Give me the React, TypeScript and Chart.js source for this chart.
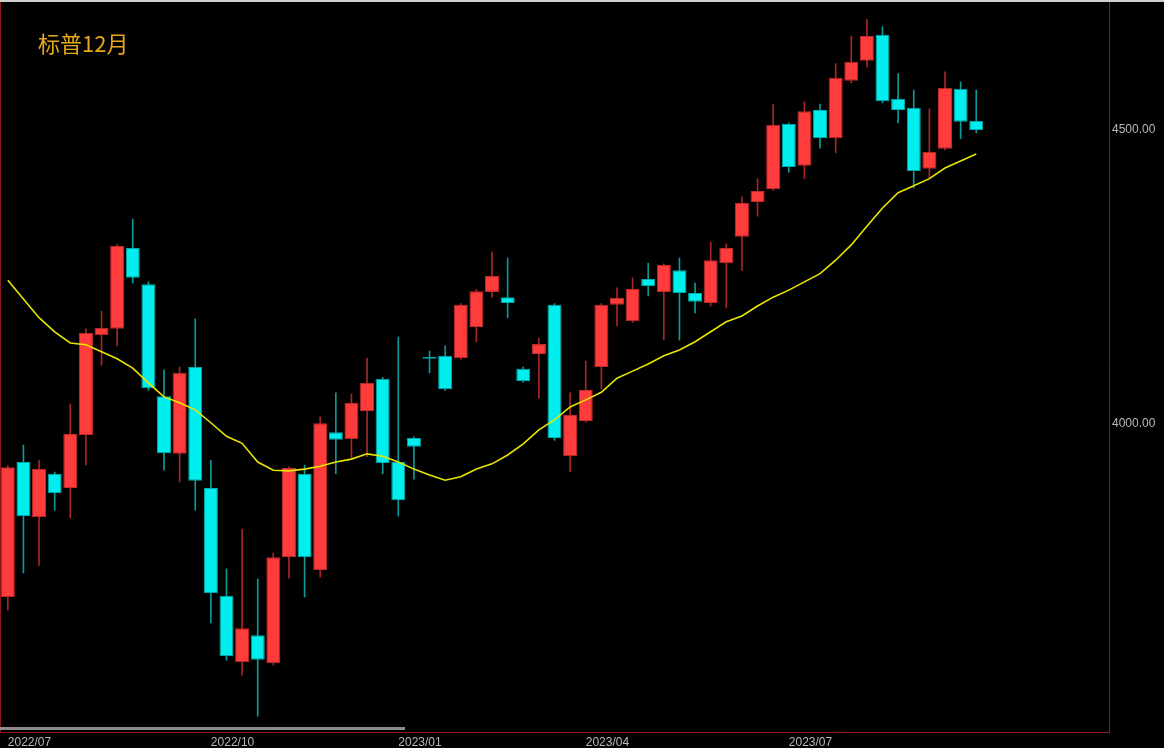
import React, { useEffect, useRef } from 'react';
import { Chart, registerables } from 'chart.js';

Chart.register(...registerables);

const chartTitle = '标普12月';
const monthTickLabels = ['2022/07', '2022/10', '2023/01', '2023/04', '2023/07'];
const monthTickIndex = [0, 13, 25, 37, 50];
const slotCount = 71;
const priceTicks = [4000, 4500];
const yMin = 3474;
const yMax = 4718;

const openPrices = [
  3704, 3934, 3840, 3914, 3890, 3980, 4150, 4161, 4299, 4237,
  4046, 3948, 4096, 3890, 3706, 3593, 3639, 3591, 3772, 3914,
  3750, 3985, 3973, 4021, 4076, 3934, 3975, 4113, 4115, 4111,
  4164, 4224, 4215, 4093, 4118, 4202, 3944, 4004, 4096, 4202,
  4174, 4246, 4224, 4261, 4222, 4205, 4273, 4318, 4377, 4399,
  4510, 4439, 4534, 4486, 4584, 4618, 4662, 4553, 4538, 4434,
  4468, 4570, 4515,
];
const highPrices = [
  3928, 3963, 3937, 3917, 4033, 4161, 4191, 4305, 4348, 4241,
  4091, 4096, 4178, 3937, 3752, 3820, 3735, 3779, 3926, 3929,
  4011, 4052, 4050, 4111, 4078, 4147, 3977, 4123, 4132, 4204,
  4228, 4292, 4282, 4096, 4145, 4204, 4052, 4106, 4204, 4231,
  4248, 4273, 4272, 4282, 4239, 4309, 4306, 4386, 4417, 4543,
  4512, 4548, 4544, 4613, 4660, 4688, 4676, 4596, 4568, 4536,
  4599, 4582, 4568,
];
const lowPrices = [
  3682, 3745, 3758, 3852, 3839, 3929, 4099, 4132, 4239, 4056,
  3920, 3900, 3852, 3660, 3596, 3571, 3501, 3588, 3736, 3704,
  3738, 3914, 3941, 3943, 3914, 3842, 3905, 4086, 4056, 4109,
  4139, 4215, 4180, 4070, 4043, 3971, 3917, 4002, 4058, 4166,
  4172, 4217, 4142, 4142, 4188, 4200, 4197, 4260, 4353, 4397,
  4428, 4417, 4469, 4461, 4580, 4607, 4546, 4512, 4401, 4418,
  4466, 4485, 4495,
];
const closePrices = [
  3925, 3842, 3922, 3881, 3982, 4154, 4163, 4302, 4248, 4060,
  3949, 4086, 3902, 3711, 3603, 3651, 3597, 3772, 3924, 3772,
  4000, 3972, 4035, 4069, 3932, 3869, 3960, 4110, 4058, 4202,
  4225, 4251, 4205, 4072, 4135, 3975, 4014, 4057, 4202, 4214,
  4229, 4234, 4270, 4222, 4207, 4278, 4299, 4376, 4396, 4509,
  4437, 4532, 4486, 4589, 4616, 4660, 4549, 4534, 4430, 4463,
  4572, 4514, 4500,
];
const maValues = [
  4244, 4212, 4180, 4156, 4137, 4134, 4122, 4110, 4094, 4069,
  4045, 4035, 4023, 4001, 3978, 3966, 3934, 3920, 3919, 3922,
  3927, 3934, 3939, 3948, 3944, 3934, 3922, 3912, 3903, 3909,
  3922, 3931, 3946, 3965, 3989, 4006, 4028, 4040, 4053, 4077,
  4089, 4101, 4115, 4125, 4139, 4156, 4173, 4183, 4200, 4215,
  4227, 4241, 4255, 4278, 4304, 4336, 4367, 4393, 4405, 4417,
  4435, 4447, 4459,
];

const UP_FILL = '#ff3c3c';
const UP_BORDER = '#c42a2a';
const UP_WICK = '#a82626';
const DOWN_FILL = '#00eeee';
const DOWN_BORDER = '#00a9a9';
const DOWN_WICK = '#0a9a9a';
const FRAME = '#8a1a1a';
const AXIS_TEXT = '#b8b8b8';

const framePlugin = {
  id: 'frameLines',
  afterDraw(chart: any) {
    const { ctx, chartArea, width } = chart;
    ctx.save();
    ctx.strokeStyle = '#cfcfcf';
    ctx.lineWidth = 2;
    ctx.beginPath();
    ctx.moveTo(0, 1);
    ctx.lineTo(width, 1);
    ctx.stroke();
    ctx.strokeStyle = FRAME;
    ctx.lineWidth = 1;
    ctx.beginPath();
    ctx.moveTo(chartArea.left + 0.5, chartArea.top);
    ctx.lineTo(chartArea.left + 0.5, chartArea.bottom);
    ctx.stroke();
    ctx.restore();
  },
};

export default function App() {
  const canvasRef = useRef<HTMLCanvasElement | null>(null);

  useEffect(() => {
    document.body.style.margin = '0';
    document.body.style.background = '#000';
    const canvas = canvasRef.current;
    if (!canvas) return;

    const labels = Array.from({ length: slotCount }, (_, i) => {
      const k = monthTickIndex.indexOf(i);
      return k >= 0 ? monthTickLabels[k] : '';
    });
    const isUp = openPrices.map((o, i) => closePrices[i] >= o);

    const chart = new Chart(canvas, {
      type: 'bar',
      data: {
        labels,
        datasets: [
          {
            type: 'line',
            label: 'MA',
            data: maValues,
            borderColor: '#e6e600',
            borderWidth: 1.6,
            pointRadius: 0,
            tension: 0,
            fill: false,
            order: 0,
          } as any,
          {
            type: 'bar',
            label: 'body',
            data: openPrices.map((o, i) => [o, closePrices[i]]),
            backgroundColor: isUp.map((u) => (u ? UP_FILL : DOWN_FILL)),
            borderColor: isUp.map((u) => (u ? UP_BORDER : DOWN_BORDER)),
            borderWidth: 1,
            borderSkipped: false,
            barPercentage: 0.896,
            categoryPercentage: 1,
            grouped: false,
            order: 1,
          } as any,
          {
            type: 'bar',
            label: 'wick',
            data: lowPrices.map((l, i) => [l, highPrices[i]]),
            backgroundColor: isUp.map((u) => (u ? UP_WICK : DOWN_WICK)),
            borderWidth: 0,
            barThickness: 1,
            grouped: false,
            order: 2,
          } as any,
        ],
      },
      options: {
        animation: false,
        responsive: false,
        maintainAspectRatio: false,
        devicePixelRatio: 1,
        layout: { padding: { top: 2, left: 0, right: 0, bottom: 0 } },
        plugins: {
          legend: { display: false },
          tooltip: { enabled: false },
          title: { display: false },
        },
        scales: {
          x: {
            type: 'category',
            offset: true,
            grid: { display: false, drawTicks: false },
            border: { display: true, color: FRAME, width: 1 },
            ticks: {
              autoSkip: false,
              maxRotation: 0,
              minRotation: 0,
              align: 'start',
              padding: 3,
              color: AXIS_TEXT,
              font: { family: 'Liberation Sans, Arial, sans-serif', size: 12 },
              callback: (_v: any, i: number) => labels[i],
            },
            afterFit: (s: any) => {
              s.height = 16;
              s.paddingLeft = 0;
              s.paddingRight = 0;
            },
          },
          y: {
            position: 'right',
            min: yMin,
            max: yMax,
            grid: { display: false, drawTicks: false },
            border: { display: true, color: FRAME, width: 1 },
            ticks: {
              padding: 3,
              color: AXIS_TEXT,
              font: { family: 'Liberation Sans, Arial, sans-serif', size: 12 },
              callback: (v: any) => Number(v).toFixed(2),
            },
            afterBuildTicks: (s: any) => {
              s.ticks = priceTicks.map((v) => ({ value: v }));
            },
            afterFit: (s: any) => {
              s.width = 55;
              s.paddingTop = 0;
              s.paddingBottom = 0;
            },
          },
        },
      } as any,
      plugins: [framePlugin],
    });

    return () => chart.destroy();
  }, []);

  return (
    <div style={{ position: 'relative', width: 1164, height: 748, background: '#000', overflow: 'hidden' }}>
      <canvas ref={canvasRef} width={1164} height={748} style={{ display: 'block', width: 1164, height: 748 }} />
      <div
        style={{
          position: 'absolute',
          left: 38,
          top: 31,
          fontFamily: '"Noto Sans CJK SC", "Noto Sans", sans-serif',
          fontSize: 22,
          lineHeight: '22px',
          color: '#e6a817',
          whiteSpace: 'nowrap',
        }}
      >
        {chartTitle}
      </div>
      <div
        style={{
          position: 'absolute',
          left: 0,
          top: 727,
          width: 405,
          height: 3,
          background: '#8c8c8c',
        }}
      />
    </div>
  );
}
